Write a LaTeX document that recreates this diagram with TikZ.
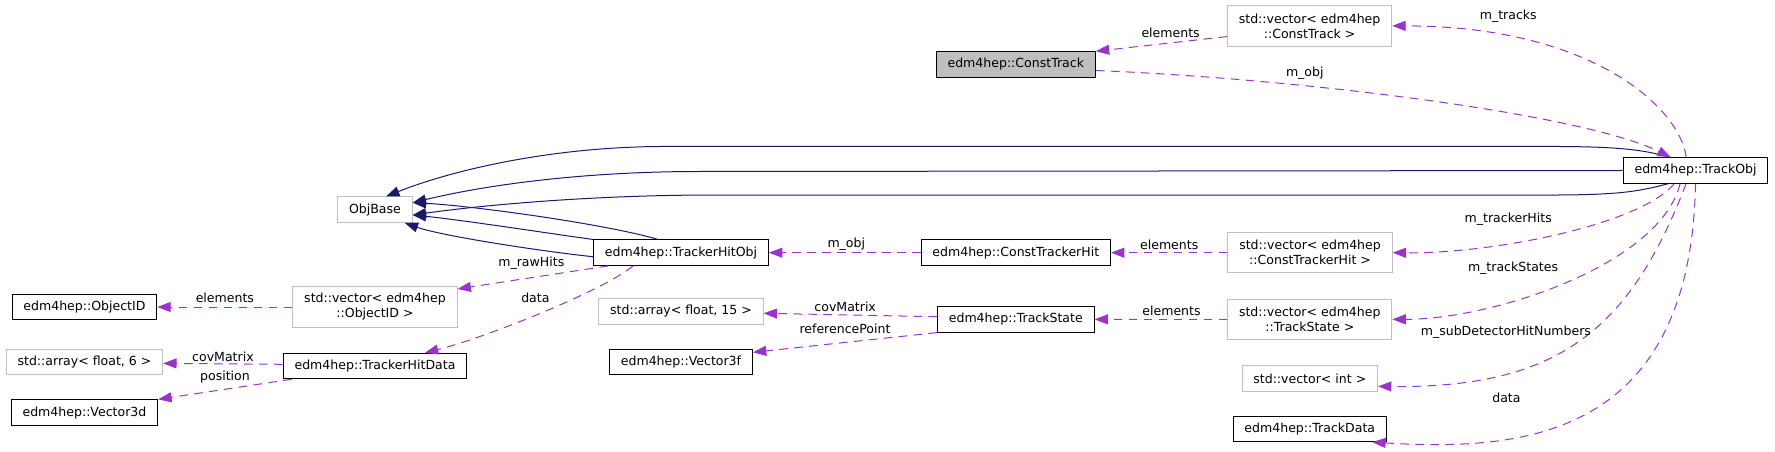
\documentclass[tikz,border=0pt]{standalone}
\usepackage{fontspec}
\setmainfont{DejaVu Sans}
\usepackage{tikz}
\usetikzlibrary{arrows.meta,positioning}
\definecolor{usecol}{RGB}{154,50,205}
\definecolor{basecol}{RGB}{25,25,112}
\definecolor{extgray}{RGB}{191,191,191}

\begin{document}
\begin{tikzpicture}[
    x=0.75pt, y=-0.75pt,
    on grid,
    font=\fontsize{9.4pt}{11.25pt}\selectfont,
    classbox/.style={rectangle, draw=black, fill=white, line width=0.75pt, inner xsep=8.5pt, inner ysep=2pt, minimum height=19.1pt},
    stdbox/.style={classbox, draw=extgray},
    stdpair/.style={stdbox, align=center, minimum height=30.4pt},
    focusbox/.style={classbox, fill=extgray},
    usage/.style={draw=usecol, line width=0.75pt, dash pattern=on 6.5pt off 4.75pt, -{Triangle[length=10pt,width=7.5pt]}},
    derive/.style={draw=basecol, line width=0.75pt, {Triangle[length=10pt,width=7.5pt]}-},
    lbl/.style={inner sep=0pt},
]
    \useasboundingbox (0,0) rectangle (1775,452);

    \node[stdbox] (objbase) at (375,209.7) {ObjBase};

    \node[classbox, below right=32.25pt and 229.5pt of objbase] (trackerhitobj) {edm4hep::TrackerHitObj};

    \node[classbox, right=251.1pt of trackerhitobj] (consttrackerhit) {edm4hep::ConstTrackerHit};

    \node[stdpair, right=220.7pt of consttrackerhit] (veccth) {std::vector< edm4hep\\::ConstTrackerHit >};

    \node[classbox, above right=61.65pt and 289.1pt of veccth] (trackobj) {edm4hep::TrackObj};

    \node[focusbox, above=141.15pt of consttrackerhit] (consttrack) {edm4hep::ConstTrack};

    \node[stdpair, above right=28.95pt and 220.35pt of consttrack] (vecct) {std::vector< edm4hep\\::ConstTrack >};

    \node[stdpair, below=73pt of objbase] (vecobjid) {std::vector< edm4hep\\::ObjectID >};

    \node[classbox, left=217.9pt of vecobjid] (objectid) {edm4hep::ObjectID};

    \node[stdbox, below=44.1pt of trackerhitobj] (arr15) {std::array< float, 15 >};

    \node[classbox, below=50pt of consttrackerhit] (trackstate) {edm4hep::TrackState};

    \node[stdpair, right=220.5pt of trackstate] (vects) {std::vector< edm4hep\\::TrackState >};

    \node[classbox, below=44.25pt of vecobjid] (trackerhitdata) {edm4hep::TrackerHitData};

    \node[stdbox, above left=3pt and 217.9pt of trackerhitdata] (arr6) {std::array< float, 6 >};

    \node[classbox, below=37.9pt of arr15] (vector3f) {edm4hep::Vector3f};

    \node[classbox, below=37.9pt of arr6] (vector3d) {edm4hep::Vector3d};

    \node[stdbox, below=44.25pt of vects] (vecint) {std::vector< int >};

    \node[classbox, below=37.9pt of vecint] (trackdata) {edm4hep::TrackData};

    \draw[derive] ([xshift=-20pt]objbase.north east) .. controls +(60,-24) and +(-120,0) .. ++(280,-50) -- ++(881,0) .. controls +(70,0) and +(-30,-8) .. ([xshift=36pt]trackobj.north west);
    \draw[derive] ([yshift=5.25pt]objbase.east) .. controls +(70,-17) and +(-120,0) .. ++(287,-31.2) -- (trackobj.west);
    \draw[derive] ([yshift=-4pt]objbase.east) .. controls +(70,-10) and +(-120,0) .. ++(300,-20) -- ++(835,0) .. controls +(70,0) and +(-30,8) .. ([xshift=34pt]trackobj.south west);
    \draw[derive] ([yshift=5.25pt]objbase.east) .. controls +(60,3) and +(-50,-15) .. ([xshift=-17.25pt]trackerhitobj.north);
    \draw[derive] ([yshift=-4pt]objbase.east) .. controls +(50,5) and +(-30,-4) .. (trackerhitobj.north west);
    \draw[derive] ([xshift=-6pt]objbase.south east) .. controls +(40,14) and +(-40,-4) .. ([yshift=-3pt]trackerhitobj.west);

    \draw[usage] ([yshift=-8pt]vecct.west) -- node[lbl, pos=0.43, yshift=7.5pt] {elements} (consttrack.north east);
    \draw[usage] ([yshift=-4.5pt]consttrack.east) .. controls +(200,8) and +(-90,-44) .. node[lbl, pos=0.32, yshift=9.7pt] {m\_obj} ([xshift=36pt]trackobj.north west);
    \draw[usage] ([xshift=-7pt]trackobj.north) .. controls +(-6,-49) and +(200,0) .. node[lbl, pos=0.78, yshift=15.2pt] {m\_tracks} (vecct.east);
    \draw[usage] ([xshift=-16pt]trackobj.south) .. controls +(-34,41) and +(100,1) .. node[lbl, pos=0.65, yshift=18.4pt] {m\_trackerHits} (veccth.east);
    \draw[usage] ([xshift=-11.6pt]trackobj.south) .. controls +(-20,81) and +(100,0) .. node[lbl, pos=0.65, yshift=24pt] {m\_trackStates} (vects.east);
    \draw[usage] ([xshift=-7.1pt]trackobj.south) .. controls +(-56,146) and +(180,2) .. node[lbl, pos=0.72, yshift=30.4pt] {m\_subDetectorHitNumbers} ([yshift=-6pt]vecint.east);
    \draw[usage] (trackobj.south) .. controls +(-5,256) and +(148,9) .. node[lbl, pos=0.7, yshift=30.5pt] {data} ([xshift=-11pt]trackdata.south east);

    \draw[usage] (veccth.west) -- node[lbl, midway, yshift=5.7pt] {elements} (consttrackerhit.east);
    \draw[usage] (vects.west) -- node[lbl, pos=0.42, yshift=6.2pt] {elements} (trackstate.east);
    \draw[usage] (consttrackerhit.west) -- node[lbl, pos=0.49, yshift=6pt] {m\_obj} (trackerhitobj.east);
    \draw[usage] ([yshift=2pt]trackstate.west) -- node[lbl, pos=0.53, yshift=6.2pt] {covMatrix} ([yshift=-1.35pt]arr15.east);
    \draw[usage] (trackstate.south west) -- node[lbl, pos=0.5, yshift=10.3pt] {referencePoint} ([yshift=7.3pt]vector3f.east);
    \draw[usage] ([xshift=11.25pt]trackerhitobj.south west) -- node[lbl, pos=0.51, yshift=10.5pt] {m\_rawHits} ([yshift=-2pt]vecobjid.north east);
    \draw[usage] ([xshift=30pt]trackerhitobj.south west) .. controls +(-30,25) and +(60,-15) .. node[lbl, pos=0.52, yshift=13.3pt] {data} ([xshift=37.5pt]trackerhitdata.north);
    \draw[usage] (vecobjid.west) -- node[lbl, midway, yshift=6.75pt] {elements} (objectid.east);
    \draw[usage] ([yshift=1.3pt]trackerhitdata.west) -- node[lbl, midway, yshift=5.3pt] {covMatrix} ([yshift=-1pt]arr6.east);
    \draw[usage] ([xshift=6.75pt]trackerhitdata.south west) -- node[lbl, midway, yshift=9.4pt] {position} (vector3d.north east);
\end{tikzpicture}
\end{document}
